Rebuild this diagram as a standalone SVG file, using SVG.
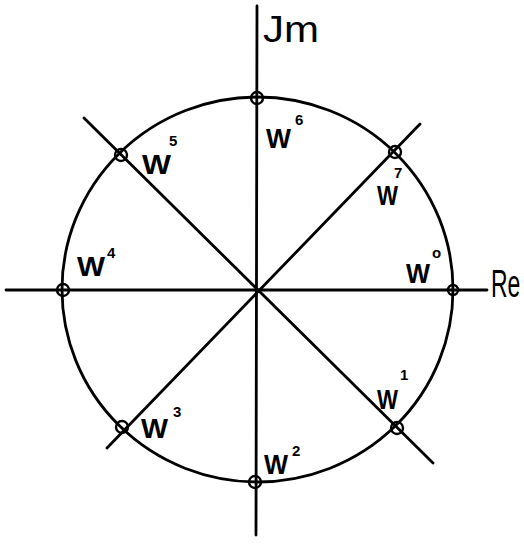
<svg xmlns="http://www.w3.org/2000/svg" width="524" height="556" viewBox="0 0 524 556">
<style>
.ln{stroke:#000;stroke-width:2.8;fill:none;stroke-linecap:round}
.pt{stroke:#000;stroke-width:2.4;fill:none}
.w{font-family:"Liberation Sans",Arial,sans-serif;font-size:28px;fill:#000;font-weight:bold}
.s{font-family:"Liberation Sans",Arial,sans-serif;font-size:15px;fill:#000;font-weight:bold}
.ax{font-family:"Liberation Sans",Arial,sans-serif;font-size:36px;fill:#000}
</style>
<rect width="524" height="556" fill="#fff"/>
<g id="connectors">
<line class="ln" x1="257" y1="6" x2="256" y2="535"/>
<line class="ln" x1="6" y1="290" x2="487" y2="290"/>
<line class="ln" x1="84" y1="118" x2="433" y2="463"/>
<line class="ln" x1="420" y1="124" x2="107" y2="448"/>
<ellipse class="ln" cx="257.5" cy="289.5" rx="195.5" ry="192.5"/>
</g>
<g id="axis-im"><text class="ax" x="263" y="42" textLength="56" lengthAdjust="spacingAndGlyphs">Jm</text></g>
<g id="axis-re"><text transform="translate(491,297) scale(1,1.7)" font-family="'Liberation Sans',Arial,sans-serif" font-size="23" fill="#000">Re</text></g>
<g id="w0"><circle class="pt" cx="453" cy="290" r="5"/><text class="w" x="406" y="283" textLength="24" lengthAdjust="spacingAndGlyphs">W</text><text class="s" x="432" y="258">o</text></g>
<g id="w1"><circle class="pt" cx="397" cy="428" r="6"/><text class="w" x="377" y="409" textLength="21" lengthAdjust="spacingAndGlyphs">W</text><text class="s" x="400" y="380">1</text></g>
<g id="w2"><circle class="pt" cx="255" cy="482" r="6"/><text class="w" x="264" y="474" textLength="24" lengthAdjust="spacingAndGlyphs">W</text><text class="s" x="292" y="456">2</text></g>
<g id="w3"><circle class="pt" cx="122" cy="427" r="6"/><text class="w" x="141" y="438" textLength="27" lengthAdjust="spacingAndGlyphs">W</text><text class="s" x="173" y="417">3</text></g>
<g id="w4"><circle class="pt" cx="63" cy="290" r="6"/><text class="w" x="77" y="276" textLength="28" lengthAdjust="spacingAndGlyphs">W</text><text class="s" x="107" y="258">4</text></g>
<g id="w5"><circle class="pt" cx="121" cy="155" r="6"/><text class="w" x="142" y="174" textLength="29" lengthAdjust="spacingAndGlyphs">W</text><text class="s" x="169" y="146">5</text></g>
<g id="w6"><circle class="pt" cx="257" cy="98" r="6"/><text class="w" x="266" y="148" textLength="25" lengthAdjust="spacingAndGlyphs">W</text><text class="s" x="295" y="125">6</text></g>
<g id="w7"><circle class="pt" cx="395" cy="152" r="6"/><text class="w" x="377" y="205" textLength="21" lengthAdjust="spacingAndGlyphs">W</text><text class="s" x="394" y="178">7</text></g>
</svg>
